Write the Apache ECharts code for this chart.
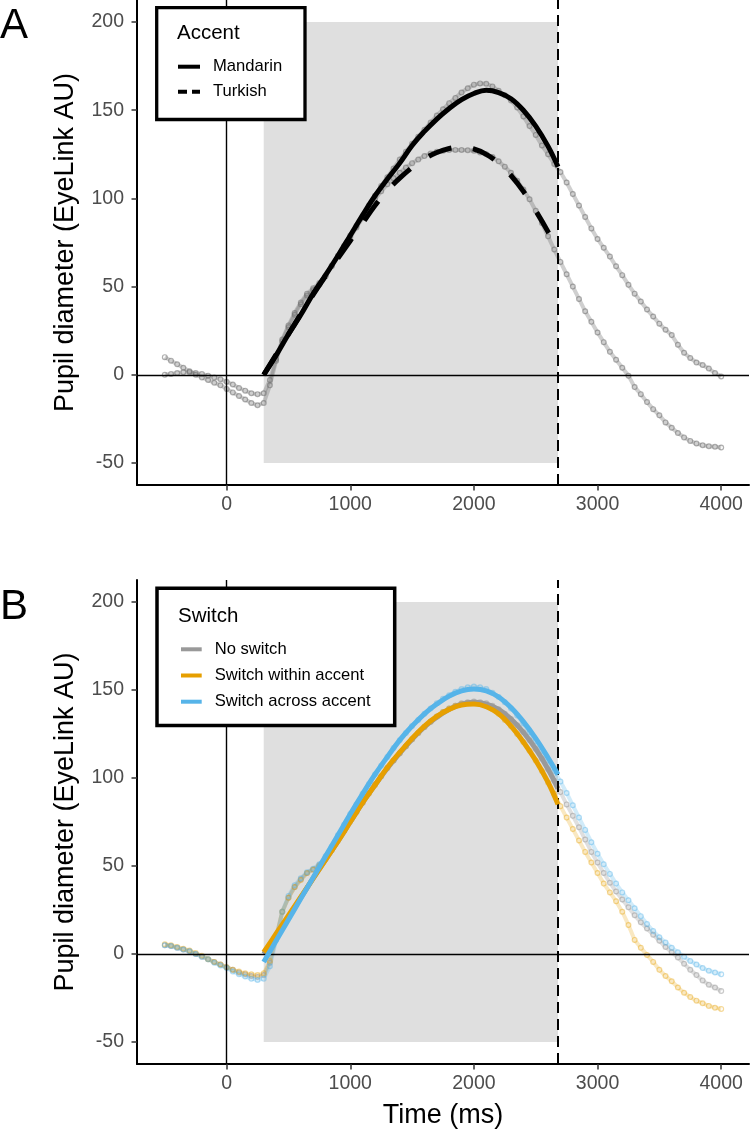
<!DOCTYPE html>
<html lang="en">
<head>
<meta charset="UTF-8">
<title>Pupil diameter</title>
<style>
    html, body { margin: 0; padding: 0; background: #fff; }
    #main { width: 750px; height: 1132px; }
</style>
</head>
<body>
<div id="main"></div>
<script src="https://cdn.jsdelivr.net/npm/echarts@6/dist/echarts.min.js"></script>
<script>
    // sample times (ms) of the raw traces
    var rawTime = [
        -500, -450, -400, -350, -300, -250, -200, -150, -100, -50,
        0, 50, 100, 150, 200, 250, 300, 350, 400, 450,
        500, 550, 600, 650, 700, 750, 800, 850, 900, 950,
        1000, 1050, 1100, 1150, 1200, 1250, 1300, 1350, 1400, 1450,
        1500, 1550, 1600, 1650, 1700, 1750, 1800, 1850, 1900, 1950,
        2000, 2050, 2100, 2150, 2200, 2250, 2300, 2350, 2400, 2450,
        2500, 2550, 2600, 2650, 2700, 2750, 2800, 2850, 2900, 2950,
        3000, 3050, 3100, 3150, 3200, 3250, 3300, 3350, 3400, 3450,
        3500, 3550, 3600, 3650, 3700, 3750, 3800, 3850, 3900, 3950,
        4000
    ];
    // times of the fitted curves
    var fitTime = [300, 400, 500, 600, 700, 800, 900, 1000, 1100, 1200, 1300, 1400, 1500,
        1600, 1700, 1800, 1900, 2000, 2100, 2200, 2300, 2400, 2500, 2600, 2680];

    var xTicks = [0, 1000, 2000, 3000, 4000];
    var yTicks = [-50, 0, 50, 100, 150, 200];
    var shadeTime = [300, 2680];
    var shadeValue = [-50, 200];
    var offsetTime = 2680;

    // panel A: accent
    var mandarinRaw = [
        10, 8, 6, 4, 2, 0, -1.5, -3, -4.5, -6,
        -8, -10, -12, -14, -16, -17.3, -16, -6, 8, 19,
        27, 34, 40, 45, 48, 51, 56, 62, 67.5, 73,
        79, 84.5, 90, 96, 101.5, 107, 112, 117, 122, 126.5,
        131, 135, 139, 143, 147, 150.5, 154, 157, 160, 162.5,
        164.5, 165.2, 165, 163.5, 161, 158.5, 155.5, 151.5, 146.5, 141,
        136, 130, 125, 119.5, 115, 109, 102.5, 96, 89.5, 83,
        77, 72, 67, 61.5, 56.5, 51, 46, 41.5, 37, 33,
        29, 25.5, 22.5, 17, 12.5, 9.5, 7, 5.5, 3.5, 1,
        -1
    ];
    var turkishRaw = [
        0, 0.5, 1, 1.5, 1.5, 1, 0.5, -0.5, -1.5, -2.5,
        -4, -5.5, -7.5, -9, -10.5, -11, -10.5, -3, 9, 20,
        28, 35, 41, 46, 49, 52, 56, 61.5, 67, 72.5,
        78, 83.5, 89, 94.5, 99.5, 104, 108, 111.5, 114.5, 117.5,
        120, 122, 124, 125.5, 126.5, 127, 127.5, 127.5, 127.5, 127.3,
        127, 126, 125, 123.5, 121, 118, 114.5, 110, 105, 99.5,
        93, 86, 78.5, 71, 64, 57, 50, 43, 36, 30,
        24, 18.5, 13, 8.5, 4, -0.5, -7, -11, -15.5, -19.5,
        -23, -27, -30, -33, -35.5, -37.5, -39, -40, -40.5, -40.8,
        -41.2
    ];
    var mandarinFit = [0, 11, 23, 34, 46, 56.5, 67.5, 79, 90.5, 101.5, 111, 120, 130,
        138, 145, 151, 156, 159.5, 161.3, 160, 156.5, 150, 141, 129.5, 118];
    var turkishFit = [0, 11.5, 23, 34.5, 45.5, 56, 66, 76, 86, 96, 104.5, 111.5, 117.5,
        122.5, 126, 128.3, 129, 128, 125, 120, 113, 104, 93, 81, 70];

    // panel B: switch
    var noSwitchRaw = [
        5, 4.5, 3.5, 2.5, 1.5, 0, -1.5, -3, -4.5, -6,
        -7.5, -9, -10.5, -11.5, -12.5, -13, -12, -5, 9, 24,
        32, 38, 42.5, 46, 48, 50.5, 54.5, 59.5, 65, 70,
        75.5, 81, 86, 91.5, 96.5, 101, 106, 110, 114, 118,
        122, 125.5, 129, 132, 135, 137.5, 139.5, 141, 142.5, 143,
        143.5, 143, 142.5, 141, 139, 136.5, 133.5, 130, 126, 121.5,
        116.5, 111, 105, 98.5, 92, 85, 78.5, 72, 65, 58,
        52, 46, 40.5, 35.5, 31, 26.5, 22, 18, 14.5, 11,
        7.5, 4, 1, -2, -5.5, -9, -12, -15, -17.5, -19,
        -21
    ];
    var withinRaw = [
        5.5, 5, 4, 3, 2, 0.5, -1, -3, -4.5, -6,
        -7.5, -9, -10, -11, -11.5, -12, -11, -4, 10, 24,
        32, 38, 42, 46, 48, 50, 54, 59, 64.5, 70,
        75.5, 80.5, 86, 91, 96, 101, 105.5, 110, 114, 118,
        122, 125.5, 129, 132, 135, 137.5, 139.5, 141, 142, 142.5,
        142.5, 142, 141, 139, 136.5, 133, 129.5, 125, 120.5, 115.5,
        110, 104, 97.5, 91, 84, 77.5, 71, 64.5, 58, 52,
        46, 40, 35, 30, 24, 16.5, 8, 3.5, -0.5, -4.5,
        -9, -12.5, -15.5, -19, -22, -24.5, -26.5, -28, -29.5, -30.5,
        -31.2
    ];
    var acrossRaw = [
        5, 4.5, 3.5, 2.5, 1.5, 0, -1.5, -3, -5, -6.5,
        -8, -10, -11.5, -12.8, -14, -14.8, -14, -7, 8, 24,
        33, 39, 43, 46.5, 48.5, 51, 55.5, 61, 67.5, 73.5,
        79.5, 85, 91, 96.5, 102, 107, 112, 117, 121.5, 125.5,
        129.5, 133, 136.5, 139.5, 142.5, 145, 147, 149, 150.5, 151.5,
        152, 151.5, 150.5, 148.5, 146, 143, 139.5, 135.5, 131, 126,
        121, 115.5, 110, 104, 98, 91.5, 84.5, 77.5, 70.5, 63.5,
        57, 51, 45.5, 40, 35, 30.5, 26, 21.5, 17, 13,
        9.5, 6.5, 3.5, 1, -1.5, -4, -6, -8, -9.5, -10.5,
        -11.5
    ];
    var noSwitchFit = [0, 10.5, 21, 32, 43, 53.5, 64, 75, 86, 96, 105.5, 114, 122,
        129, 134.5, 139, 142, 143, 142, 139, 133.5, 126, 116.5, 105, 94];
    var withinFit = [1, 11.5, 22, 32.5, 43, 53.5, 64, 75, 86, 96, 106, 114.5, 122.5,
        129.5, 135, 139, 141.5, 142, 140.5, 136.5, 129.5, 120.5, 110, 97.5, 85];
    var acrossFit = [-4.5, 7.5, 19.5, 31.5, 43.5, 55.5, 67.5, 79.5, 91, 102, 112, 121.5, 129.5,
        136.5, 142, 146.5, 149.5, 150.5, 149.5, 146, 140, 132, 122.5, 111.5, 102];

    var FONT = '"Liberation Sans", Arial, Helvetica, sans-serif';

    function pairs(t, v) {
        return t.map(function (x, i) { return [x, v[i]]; });
    }
    function plain(v) {
        return String(v);
    }

    var myChart = echarts.init(document.getElementById('main'), null, {renderer: 'canvas'});

    function xAxisFor(idx, name) {
        return {
            type: 'value', gridIndex: idx, min: -725, max: 4225,
            name: name || '', nameLocation: 'middle', nameGap: 38,
            nameTextStyle: {fontSize: 27, color: '#000', fontFamily: FONT},
            axisLine: {onZero: false, lineStyle: {color: '#000', width: 2}},
            axisTick: {customValues: xTicks, length: 5.5, lineStyle: {color: '#333', width: 1.5}},
            axisLabel: {customValues: xTicks, formatter: plain, color: '#4d4d4d', fontSize: 19.5, margin: 10, fontFamily: FONT},
            splitLine: {show: false}
        };
    }
    function yAxisFor(idx) {
        return {
            type: 'value', gridIndex: idx, min: -62.5, max: 212.5,
            name: 'Pupil diameter (EyeLink AU)', nameLocation: 'middle', nameGap: 58,
            nameTextStyle: {fontSize: 27, color: '#000', fontFamily: FONT},
            axisLine: {onZero: false, lineStyle: {color: '#000', width: 2}},
            axisTick: {customValues: yTicks, length: 5.5, lineStyle: {color: '#333', width: 1.5}},
            axisLabel: {customValues: yTicks, formatter: plain, color: '#4d4d4d', fontSize: 19.5, margin: 13, fontFamily: FONT},
            splitLine: {show: false}
        };
    }

    function backdrop(idx) {
        return [{
            type: 'line', xAxisIndex: idx, yAxisIndex: idx, data: [], z: 1, silent: true,
            markArea: {
                silent: true, itemStyle: {color: '#dfdfdf'},
                data: [[{xAxis: shadeTime[0], yAxis: shadeValue[0]}, {xAxis: shadeTime[1], yAxis: shadeValue[1]}]]
            }
        }, {
            type: 'line', xAxisIndex: idx, yAxisIndex: idx, data: [], z: 2, silent: true,
            markLine: {
                silent: true, symbol: ['none', 'none'], label: {show: false},
                data: [
                    {xAxis: 0, lineStyle: {type: 'solid', width: 1.4, color: '#000'}},
                    {yAxis: 0, lineStyle: {type: 'solid', width: 1.4, color: '#000'}},
                    {xAxis: offsetTime, lineStyle: {type: [11, 6], width: 2, color: '#000'}}
                ]
            }
        }];
    }

    function rawSeries(idx, name, values, rgb, alpha) {
        return {
            type: 'line', name: name, xAxisIndex: idx, yAxisIndex: idx, z: 3, silent: true,
            data: pairs(rawTime, values),
            symbol: 'circle', symbolSize: 4.8, showSymbol: true,
            itemStyle: {color: 'rgba(0,0,0,0)', borderColor: 'rgba(' + rgb + ',' + alpha + ')', borderWidth: 1.2},
            lineStyle: {width: 4, color: 'rgba(' + rgb + ',' + (alpha * 0.6) + ')'}
        };
    }

    function fitSeries(idx, name, values, color, dash, z) {
        return {
            type: 'line', name: name, xAxisIndex: idx, yAxisIndex: idx, z: z, silent: true,
            data: pairs(fitTime, values), symbol: 'none', smooth: 0.4,
            itemStyle: {color: color},
            lineStyle: {width: 5, color: color, type: dash || 'solid', cap: 'butt'}
        };
    }

    var series = [].concat(
        backdrop(0),
        [rawSeries(0, 'Mandarin raw', mandarinRaw, '110,110,110', 0.55),
         rawSeries(0, 'Turkish raw', turkishRaw, '110,110,110', 0.55),
         fitSeries(0, 'Mandarin', mandarinFit, '#000', 'solid', 4),
         fitSeries(0, 'Turkish', turkishFit, '#000', [24, 22], 4)],
        backdrop(1),
        [rawSeries(1, 'No switch raw', noSwitchRaw, '150,150,150', 0.5),
         rawSeries(1, 'Switch within raw', withinRaw, '230,159,0', 0.4),
         rawSeries(1, 'Switch across raw', acrossRaw, '86,180,233', 0.45),
         fitSeries(1, 'No switch', noSwitchFit, '#999999', 'solid', 4),
         fitSeries(1, 'Switch within accent', withinFit, '#E69F00', 'solid', 5),
         fitSeries(1, 'Switch across accent', acrossFit, '#56B4E9', 'solid', 6)]
    );

    var legendText = {fontSize: 16.6, lineHeight: 20, color: '#000', fontFamily: FONT, padding: [0, 0, 0, 8]};

    var option = {
        animation: false,
        backgroundColor: '#fff',
        grid: [
            {left: 137, top: 0, width: 612, height: 485},
            {left: 137, top: 580, width: 612, height: 484}
        ],
        xAxis: [xAxisFor(0), xAxisFor(1, 'Time (ms)')],
        yAxis: [yAxisFor(0), yAxisFor(1)],
        legend: [{
            left: 178, top: 56.7, orient: 'vertical', padding: 0, z: 110,
            itemWidth: 22, itemHeight: 4, itemGap: 5, selectedMode: false,
            textStyle: legendText,
            data: [
                {name: 'Mandarin', icon: 'rect'},
                {name: 'Turkish', icon: 'path://M0,0h9v4h-9z M14,0h8v4h-8z'}
            ]
        }, {
            left: 181, top: 639.3, orient: 'vertical', padding: 0, z: 110,
            itemWidth: 20.7, itemHeight: 4, itemGap: 6.2, selectedMode: false,
            textStyle: legendText,
            data: [
                {name: 'No switch', icon: 'rect'},
                {name: 'Switch within accent', icon: 'rect'},
                {name: 'Switch across accent', icon: 'rect'}
            ]
        }],
        graphic: [
            {type: 'rect', z: 100, silent: true, shape: {x: 156.7, y: 7.7, width: 148.3, height: 111.8},
                style: {fill: '#fff', stroke: '#000', lineWidth: 3.3}},
            {type: 'rect', z: 100, silent: true, shape: {x: 157, y: 588.3, width: 237.7, height: 137.2},
                style: {fill: '#fff', stroke: '#000', lineWidth: 3.5}},
            {type: 'text', z: 101, silent: true, x: 177, y: 33.5,
                style: {text: 'Accent', font: '20.5px ' + FONT, fill: '#000',
                    textVerticalAlign: 'middle', verticalAlign: 'middle'}},
            {type: 'text', z: 101, silent: true, x: 178, y: 616,
                style: {text: 'Switch', font: '20.5px ' + FONT, fill: '#000',
                    textVerticalAlign: 'middle', verticalAlign: 'middle'}},
            {type: 'text', z: 101, silent: true, x: 0, y: 26,
                style: {text: 'A', font: '42px ' + FONT, fill: '#000',
                    textVerticalAlign: 'middle', verticalAlign: 'middle'}},
            {type: 'text', z: 101, silent: true, x: 0, y: 607,
                style: {text: 'B', font: '42px ' + FONT, fill: '#000',
                    textVerticalAlign: 'middle', verticalAlign: 'middle'}}
        ],
        series: series
    };

    myChart.setOption(option);
    window.addEventListener('resize', function () {
        myChart.resize();
    });
</script>
</body>
</html>
